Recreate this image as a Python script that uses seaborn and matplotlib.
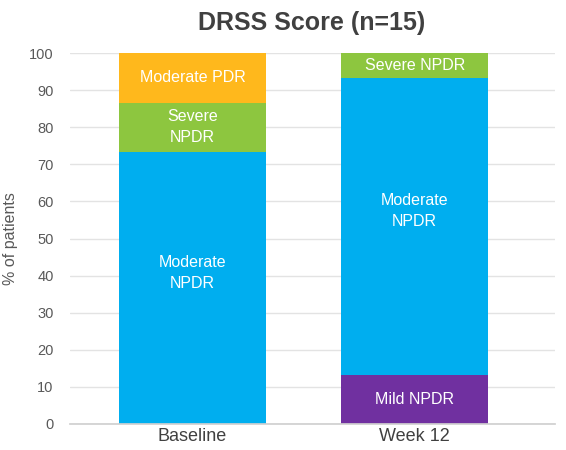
import matplotlib
matplotlib.use("Agg")
import matplotlib.pyplot as plt
import numpy as np
import pandas as pd
import seaborn as sns

visits = ["Baseline", "Week 12"]
stages = ["Mild NPDR", "Moderate NPDR", "Severe NPDR", "Moderate PDR"]
# % of patients (n=15) per stage, bottom to top
baseline_pct = [0.0, 73.3, 13.3, 13.4]
week12_pct = [13.3, 80.0, 6.7, 0.0]
colors = ["#7030A0", "#00AEEF", "#8DC63F", "#FFB81C"]
seg_labels = {
    ("Baseline", "Moderate NPDR"): "Moderate\nNPDR",
    ("Baseline", "Severe NPDR"): "Severe\nNPDR",
    ("Baseline", "Moderate PDR"): "Moderate PDR",
    ("Week 12", "Mild NPDR"): "Mild NPDR",
    ("Week 12", "Moderate NPDR"): "Moderate\nNPDR",
    ("Week 12", "Severe NPDR"): "Severe NPDR",
}

sns.set_theme(style="whitegrid")
plt.rcParams["font.family"] = ["Liberation Sans", "DejaVu Sans"]

df = pd.DataFrame({"visit": visits})
for i, s in enumerate(stages):
    df[s] = [baseline_pct[i], week12_pct[i]]
cum = df[stages].cumsum(axis=1)

fig = plt.figure(figsize=(5.66, 4.5), dpi=100)
ax = fig.add_axes([0.124, 0.058, 0.856, 0.824])

# draw cumulative tops from the top layer down so lower layers sit on top
for s, c in reversed(list(zip(stages, colors))):
    sns.barplot(x=df["visit"], y=cum[s], color=c, width=0.66, ax=ax,
                saturation=1, linewidth=0, zorder=2)

for xi, v in enumerate(visits):
    bottom = 0.0
    for s in stages:
        h = df.loc[xi, s]
        if (v, s) in seg_labels and h > 0:
            yc = bottom + h / 2 + (4 if h > 50 else 0)
            ax.text(xi, yc, seg_labels[(v, s)], ha="center", va="center",
                    color="white", fontsize=11.5, linespacing=1.5, zorder=3)
        bottom += h

ax.set_ylim(0, 100)
ax.set_xlim(-0.55, 1.63)
ax.set_yticks(np.arange(0, 101, 10))
ax.set_ylabel("% of patients", fontsize=11.5, color="#595959", labelpad=8)
ax.set_xlabel("")
ax.tick_params(axis="y", labelsize=10.5, labelcolor="#595959", length=0, pad=12)
ax.tick_params(axis="x", labelsize=13, labelcolor="#404040", length=0, pad=3)
ax.grid(axis="x", visible=False)
ax.grid(axis="y", color="#e3e3e3", linewidth=1)
for sp in ["top", "right", "left"]:
    ax.spines[sp].set_visible(False)
ax.spines["bottom"].set_color("#d0d0d0")
ax.set_axisbelow(True)
fig.text(0.55, 0.975, "DRSS Score (n=15)", ha="center", va="top",
         fontsize=18, fontweight="bold", color="#404040")

fig.savefig("out.png", dpi=100)
